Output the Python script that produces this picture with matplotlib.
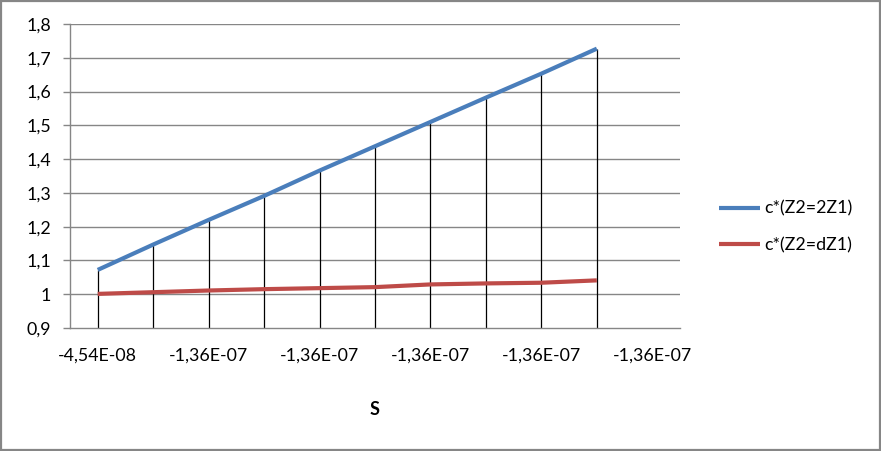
import matplotlib
matplotlib.use("Agg")
import matplotlib.pyplot as plt
from matplotlib.patches import Rectangle

categories = ["-4,54E-08"] + ["-1,36E-07"] * 10
series_2z1 = [1.072, 1.147, 1.220, 1.291, 1.366, 1.438, 1.510, 1.582, 1.653, 1.727]
series_dz1 = [1.001, 1.006, 1.011, 1.015, 1.018, 1.021, 1.029, 1.032, 1.034, 1.041]
names = ["c*(Z2=2Z1)", "c*(Z2=dZ1)"]
yticks = [0.9, 1.0, 1.1, 1.2, 1.3, 1.4, 1.5, 1.6, 1.7, 1.8]
ytick_labels = ["0,9", "1", "1,1", "1,2", "1,3", "1,4", "1,5", "1,6", "1,7", "1,8"]
xlabel = "S"

plt.rcParams['font.family'] = ['Lato', 'DejaVu Sans']

fig = plt.figure(figsize=(8.81, 4.51), dpi=100)
fig.patches.append(Rectangle((0.0015, 0.002), 0.997, 0.996, transform=fig.transFigure,
                             fill=False, edgecolor='#868686', linewidth=1.6))
ax = fig.add_axes([70/881, 123/451, 610/881, 304/451])

x = list(range(len(series_2z1)))
grid_c = '#868686'
for y in yticks[1:]:
    ax.axhline(y, color=grid_c, lw=1.0, zorder=1)

# drop lines
for xi, a, b in zip(x, series_2z1, series_dz1):
    ax.vlines(xi, 0.9, max(a, b), color='black', lw=0.9, zorder=2)

ax.plot(x, series_2z1, color='#4A7EBB', lw=3.0, solid_capstyle='butt', zorder=3, label=names[0])
ax.plot(x, series_dz1, color='#BE4B48', lw=3.0, solid_capstyle='butt', zorder=3, label=names[1])

fs = 12.8
ax.set_xlim(-0.5, len(categories) - 0.5)
ax.set_ylim(0.9, 1.8)
ax.set_yticks(yticks)
ax.set_yticklabels(ytick_labels, fontsize=fs)
ax.set_xticks(range(0, len(categories), 2))
ax.set_xticklabels(categories[::2], fontsize=fs)
ax.tick_params(axis='x', length=0, pad=14)
ax.tick_params(axis='y', length=5, width=1, color=grid_c, pad=8.5)
for s in ['top', 'right']:
    ax.spines[s].set_visible(False)
ax.spines['left'].set_color(grid_c)
ax.spines['bottom'].set_color(grid_c)
ax.spines['left'].set_linewidth(1.0)
ax.spines['bottom'].set_linewidth(1.0)

ax.set_xlabel(xlabel, fontsize=13, fontweight='bold', labelpad=27)

fig.legend(loc='center left', bbox_to_anchor=(712/881, 1 - 227/451), frameon=False,
           fontsize=fs, handlelength=2.3, handletextpad=0.25, labelspacing=1.15,
           borderaxespad=0, borderpad=0.4)

fig.savefig('out.png', dpi=100)
